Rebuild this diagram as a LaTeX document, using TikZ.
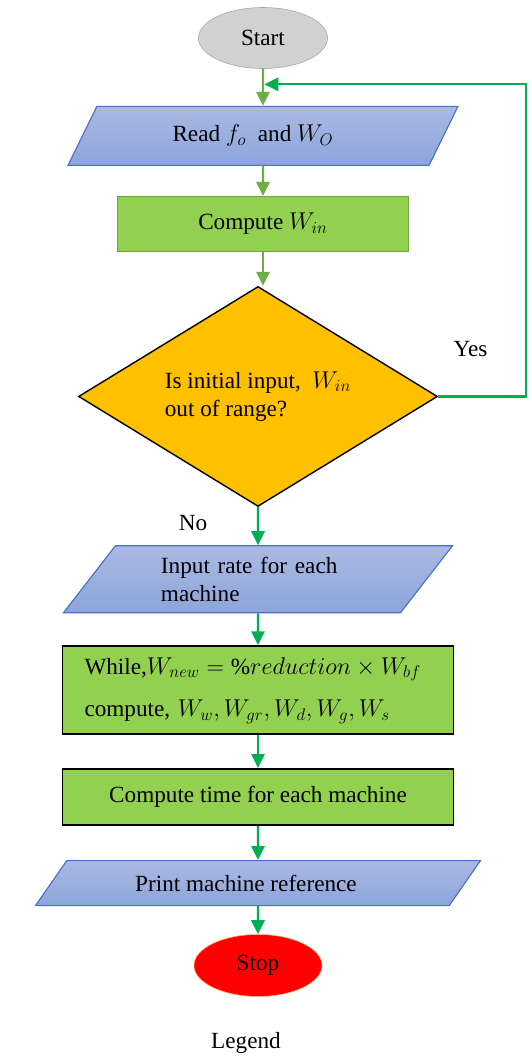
\documentclass[tikz,border=0pt]{standalone}
\usepackage{fontspec}
\setmainfont{Liberation Serif}
\definecolor{flowgreen}{HTML}{70AD47}
\definecolor{loopgreen}{HTML}{00B050}
\definecolor{procgreen}{HTML}{92D050}
\definecolor{iotop}{HTML}{AAB9E3}
\definecolor{iobot}{HTML}{8DA5DA}
\definecolor{ioline}{HTML}{4472C4}
\definecolor{decfill}{HTML}{FFC000}
\usetikzlibrary{arrows.meta,positioning,shapes.geometric,calc}

\begin{document}
\begin{tikzpicture}[
            every node/.style={font=\fontsize{16.5}{20}\selectfont},
            term/.style={ellipse, inner sep=0pt},
            io/.style={trapezium, trapezium stretches body, draw=ioline, line width=0.8pt,
                       top color=iotop, bottom color=iobot, inner sep=0pt},
            proc/.style={rectangle, fill=procgreen, inner sep=0pt, align=center},
            dec/.style={diamond, aspect=1.63, draw=black, line width=1pt, fill=decfill, inner sep=0pt,
                        minimum width=8.975cm, minimum height=5.5cm, align=left},
            lbl/.style={inner sep=0pt},
            arr/.style={-{Triangle[length=0.35cm,width=0.33cm]}, flowgreen, line width=1.6pt},
            garr/.style={-{Triangle[length=0.35cm,width=0.33cm]}, loopgreen, line width=1.6pt}
          ]
            \useasboundingbox (0,0) rectangle (13.275,-26.475);
            \node[term, draw=black!35, fill=black!18, minimum width=3.225cm, minimum height=1.525cm]
                  (start) at (6.575,-0.95) {Start};
            \node[io, trapezium left angle=36.75, trapezium right angle=143.25,
                  minimum width=9.75cm, minimum height=1.475cm] (read) [below=0.925cm of start]
                  {\hspace*{-0.5cm}Read $f_o$\ \ and $W_O$};
            \node[proc, draw=procgreen!80!black, line width=0.6pt, minimum width=7.275cm,
                  minimum height=1.375cm] (win) [below=0.75cm of read] {Compute $W_{in}$};
            \node[dec] (check) [below=0.85cm of win, xshift=-0.125cm]
                  {Is initial input,\ \ $W_{in}$\\out of range?};
            \node[io, trapezium left angle=40.7, trapezium right angle=139.3,
                  minimum width=9.725cm, minimum height=1.675cm, align=left,
                  text width=4.85cm] (rate) [below=0.95cm of check]
                  {Input rate for each\\machine};
            \node[proc, draw=black, line width=1.4pt, minimum width=9.775cm, minimum height=2.2cm,
                  align=left, text width=8.675cm] (loopw) [below=0.8cm of rate]
                  {While,$W_{new}=\%reduction\times W_{bf}$\\[10pt]compute, $W_w, W_{gr}, W_d, W_g, W_s$};
            \node[proc, draw=black, line width=1.4pt, minimum width=9.775cm, minimum height=1.4cm]
                  (time) [below=0.82cm of loopw] {Compute time for each machine};
            \node[io, trapezium left angle=27.9, trapezium right angle=152.1,
                  minimum width=11.125cm, minimum height=1.125cm] (print) [below=0.85cm of time]
                  {\hspace*{-0.6cm}Print machine reference};
            \node[term, draw=orange!60, fill=red, minimum width=3.2cm, minimum height=1.55cm]
                  (stop) [below=0.7cm of print] {Stop};
            \node[lbl] (yes) at ([xshift=0.81cm,yshift=1.175cm]check.east) {Yes};
            \node[lbl] (no) at ([xshift=-1.625cm,yshift=-0.4cm]check.south) {No};
            \node[lbl, anchor=base] (legend) at ([xshift=-0.3cm,yshift=-1.3cm]stop.south) {Legend};
            \coordinate (join) at ($(start.south)!0.42!(read.north)$);
            \draw[arr] (start) -- (read);
            \draw[arr] (read) -- (win);
            \draw[arr] (win.south) -- (win.south |- check.north);
            \draw[garr] (check.east) -- ++(2.2cm,0) |- ([xshift=1pt]join);
            \draw[garr] (check) -- (rate);
            \draw[garr] (rate) -- (loopw);
            \draw[garr] (loopw) -- (time);
            \draw[garr] (time) -- (print);
            \draw[garr] (print) -- (stop);
          \end{tikzpicture}
\end{document}
